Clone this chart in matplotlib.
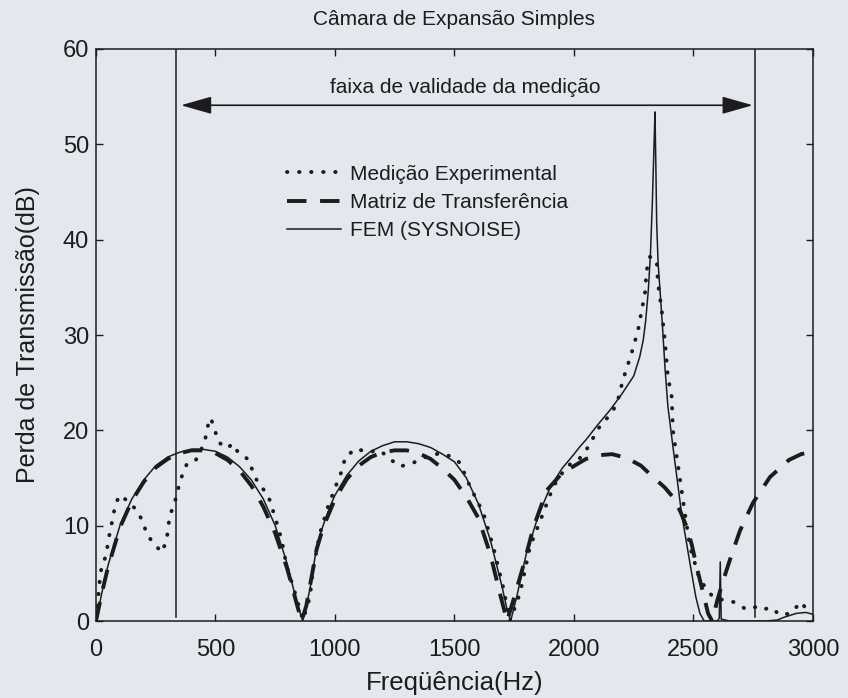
import numpy as np
import matplotlib
matplotlib.use("Agg")
import matplotlib.pyplot as plt

plt.rcParams['font.family'] = ['Liberation Sans', 'DejaVu Sans']

# Medição experimental (Hz, dB)
freq_med = [0, 3, 17, 25, 38, 51, 59, 72, 80, 100, 142, 170, 197, 212, 240, 275, 296, 302, 310,
            330, 344, 358, 379, 414, 456, 463, 480, 498, 511, 547, 573, 594, 640, 657, 678, 720,
            749, 777, 798, 825, 853, 866, 895, 908, 937, 971, 992, 1013, 1033, 1042, 1090, 1132,
            1188, 1230, 1272, 1328, 1380, 1439, 1480, 1523, 1565, 1621, 1662, 1703, 1732, 1774,
            1816, 1871, 1913, 1969, 2025, 2067, 2095, 2130, 2164, 2184, 2205, 2241, 2268, 2297,
            2304, 2318, 2346, 2351, 2367, 2381, 2393, 2409, 2414, 2444, 2464, 2485, 2527, 2582,
            2653, 2667, 2723, 2765, 2785, 2827, 2862, 2904, 2952, 2967, 2987]
tl_med = [0.3, 0.8, 4.6, 5.9, 6.6, 8.2, 9.5, 10.9, 12.2, 13.2, 12.4, 11.6, 10.4, 9.1, 8.2, 7.2,
          8.5, 9.9, 11.1, 12.5, 13.9, 15.1, 16.4, 16.7, 18.8, 20.1, 21.3, 20.0, 18.8, 18.1, 18.6,
          17.7, 16.9, 15.6, 14.5, 13.2, 10.9, 8.5, 5.7, 3.6, 1.2, 0.1, 2.5, 5.4, 9.2, 12.0, 13.4,
          14.8, 16.0, 17.2, 18.1, 17.7, 17.9, 17.0, 16.2, 16.6, 17.2, 17.6, 17.3, 16.6, 14.1,
          11.3, 7.8, 3.6, 0.0, 2.9, 7.8, 11.3, 14.1, 16.2, 17.1, 18.5, 20.0, 21.0, 22.1, 23.2,
          25.3, 28.1, 30.5, 34.4, 36.8, 38.2, 37.9, 35.5, 32.6, 29.2, 25.6, 23.5, 20.0, 14.8,
          11.3, 7.8, 4.3, 2.5, 2.0, 2.0, 1.2, 1.5, 1.2, 1.4, 0.6, 0.8, 2.0, 1.4, 0.8]

# Matriz de transferência
freq_mt = [0, 25, 50, 100, 150, 200, 250, 300, 350, 400, 450, 500, 550, 600, 650, 700, 750, 800,
           840, 860, 880, 923, 950, 1000, 1050, 1100, 1150, 1200, 1250, 1300, 1350, 1400, 1450,
           1500, 1550, 1600, 1650, 1690, 1720, 1750, 1787, 1830, 1886, 1950, 1996, 2050, 2109,
           2160, 2220, 2280, 2331, 2380, 2414, 2445, 2471, 2493, 2513, 2540, 2561, 2578, 2600,
           2625, 2660, 2695, 2749, 2820, 2900, 2950, 3000]
tl_mt = [0.0, 3.0, 5.6, 9.8, 12.6, 14.6, 16.1, 17.0, 17.6, 17.9, 17.9, 17.6, 16.9, 15.8, 14.2,
         12.0, 9.2, 5.5, 1.8, 0.0, 1.6, 7.5, 9.8, 12.8, 14.9, 16.3, 17.2, 17.7, 17.9, 17.9, 17.6,
         17.0, 16.0, 14.8, 13.0, 10.8, 7.0, 2.9, 0.0, 2.5, 5.7, 9.8, 13.7, 15.5, 16.2, 17.0, 17.4,
         17.5, 17.1, 16.3, 15.1, 14.0, 13.0, 11.5, 9.9, 8.0, 5.7, 3.0, 0.8, 0.0, 2.2, 4.3, 7.0,
         9.5, 12.4, 15.1, 16.9, 17.5, 17.8]

# FEM (SYSNOISE)
freq_fem = [0, 25, 50, 100, 150, 200, 250, 300, 350, 400, 450, 500, 550, 600, 650, 700, 750,
            800, 840, 865, 880, 900, 923, 950, 979, 1000, 1050, 1100, 1150, 1200, 1250, 1300,
            1350, 1400, 1450, 1500, 1550, 1600, 1650, 1700, 1720, 1735, 1760, 1800, 1850, 1900,
            1950, 2000, 2025, 2050, 2100, 2150, 2200, 2250, 2275, 2290, 2300, 2311, 2320, 2328,
            2335, 2339, 2343, 2346, 2352, 2360, 2370, 2381, 2393, 2414, 2450, 2485, 2510, 2527,
            2545, 2600, 2608, 2612, 2616, 2650, 2700, 2800, 2850, 2880, 2930, 2970, 3000]
tl_fem = [0.0, 3.0, 5.8, 10.0, 12.8, 14.8, 16.3, 17.2, 17.7, 18.0, 18.0, 17.8, 17.2, 16.2, 14.8,
          12.8, 10.0, 6.0, 2.0, 0.0, 1.5, 4.0, 7.8, 10.0, 12.0, 13.2, 15.3, 16.8, 17.8, 18.4,
          18.8, 18.8, 18.6, 18.2, 17.5, 16.7, 15.0, 12.3, 8.5, 3.5, 1.2, 0.0, 2.5, 7.0, 11.0,
          14.0, 16.0, 17.5, 18.3, 19.0, 20.6, 22.1, 23.8, 25.7, 27.7, 29.5, 31.5, 34.7, 38.5,
          44.0, 50.0, 53.4, 47.0, 41.8, 37.5, 34.7, 31.0, 26.5, 22.5, 18.3, 11.3, 6.1, 2.5, 0.8,
          0.0, 0.0, 0.3, 6.2, 0.2, 0.0, 0.0, 0.0, 0.1, 0.4, 0.8, 0.9, 0.7]

faixa = [335, 2757]

bg = '#e3e8ee'
ink = '#1c1c1c'

fig = plt.figure(figsize=(8.48, 6.98), dpi=100, facecolor=bg)
ax = fig.add_axes([0.1132, 0.1103, 0.8455, 0.8195], facecolor=bg)

ax.plot(freq_med, tl_med, color=ink, lw=2.8, linestyle=(0, (0.1, 3.0)),
        dash_capstyle='round', label='Medição Experimental')
ax.plot(freq_mt, tl_mt, color=ink, lw=2.8, linestyle=(0, (5, 3.5)),
        label='Matriz de Transferência')
ax.plot(freq_fem, tl_fem, color=ink, lw=1.1, label='FEM (SYSNOISE)')

for xv in faixa:
    ax.axvline(xv, ymin=0.007, ymax=1, color=ink, lw=1.1)
ax.annotate('', xy=(faixa[0], 54.1), xytext=(faixa[1], 54.1),
            arrowprops=dict(arrowstyle='<|-|>,head_length=0.95,head_width=0.27',
                            color=ink, lw=1.2, mutation_scale=20,
                            shrinkA=1.5, shrinkB=3.5))
ax.text(1544, 56.0, 'faixa de validade da medição', ha='center', va='center',
        fontsize=15, color=ink)

ax.set_xlim(0, 3000)
ax.set_ylim(0, 60)
ax.set_xticks(np.arange(0, 3001, 500))
ax.set_yticks(np.arange(0, 61, 10))
ax.tick_params(direction='in', length=5, width=1, top=True, right=True,
               labelsize=17, colors=ink)
ax.tick_params(axis='x', pad=13)
ax.tick_params(axis='y', pad=5)
for s in ax.spines.values():
    s.set_linewidth(1.1)
    s.set_color(ink)

ax.set_title('Câmara de Expansão Simples', fontsize=15, color=ink, pad=17)
ax.set_xlabel('Freqüência(Hz)', fontsize=18.5, color=ink, labelpad=7)
ax.set_ylabel('Perda de Transmissão(dB)', fontsize=18, color=ink, labelpad=16)

ax.legend(loc='upper left', bbox_to_anchor=(0.252, 0.816), frameon=False,
          fontsize=15, handlelength=2.6, handletextpad=0.4, labelspacing=0.45,
          borderpad=0, labelcolor=ink)

fig.savefig('out.png', dpi=100, facecolor=bg)
